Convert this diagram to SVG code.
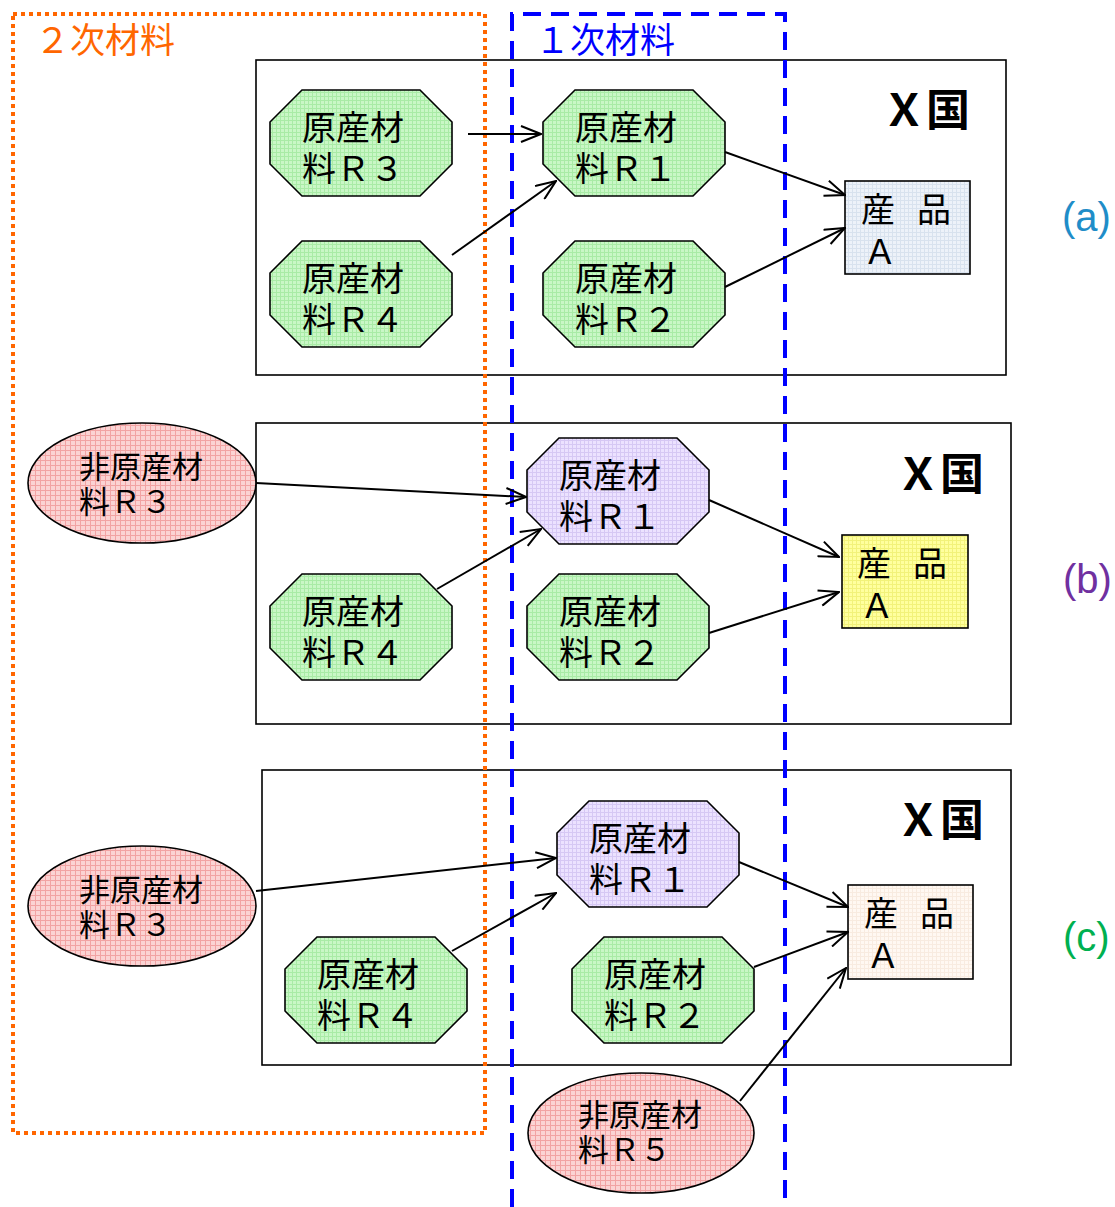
<svg xmlns="http://www.w3.org/2000/svg" width="1115" height="1207" viewBox="0 0 1115 1207">
<defs>
<pattern id="pg" width="4" height="4" patternUnits="userSpaceOnUse"><rect width="4" height="4" fill="#c9f7c6"/><path d="M0,0.5H4M0.5,0V4" stroke="#a9eba6" stroke-width="1"/></pattern>
<pattern id="pp" width="4" height="4" patternUnits="userSpaceOnUse"><rect width="4" height="4" fill="#ece2ff"/><path d="M0,0.5H4M0.5,0V4" stroke="#d6c8f4" stroke-width="1"/></pattern>
<pattern id="pr" width="5" height="5" patternUnits="userSpaceOnUse"><rect width="5" height="5" fill="#fbd3d3"/><path d="M0,0.5H5M0.5,0V5" stroke="#f2a3a3" stroke-width="1"/></pattern>
<pattern id="pb" width="4" height="4" patternUnits="userSpaceOnUse"><rect width="4" height="4" fill="#edf2f9"/><path d="M0,0.5H4M0.5,0V4" stroke="#d8e2ee" stroke-width="1"/></pattern>
<pattern id="py" width="4" height="4" patternUnits="userSpaceOnUse"><rect width="4" height="4" fill="#ffff9e"/><path d="M0,0.5H4M0.5,0V4" stroke="#f2f27a" stroke-width="1"/></pattern>
<pattern id="pc" width="4" height="4" patternUnits="userSpaceOnUse"><rect width="4" height="4" fill="#fff8f2"/><path d="M0,0.5H4M0.5,0V4" stroke="#f8ebe0" stroke-width="1"/></pattern>
<marker id="arr" viewBox="0 0 22 18" refX="21" refY="9" markerWidth="22" markerHeight="18" markerUnits="userSpaceOnUse" orient="auto"><path d="M1,1 L21,9 L1,17" fill="none" stroke="#000" stroke-width="2"/></marker>
</defs>
<style>
.frame{fill:#fff;stroke:#000;stroke-width:1.6}
.oct{stroke:#000;stroke-width:1.6}
.ell{fill:url(#pr);stroke:#000;stroke-width:1.6}
.prod{stroke:#000;stroke-width:1.6}
.t{font-family:"Noto Sans CJK JP","Noto Sans",sans-serif;font-size:34px;fill:#000}
.te{font-family:"Noto Sans CJK JP","Noto Sans",sans-serif;font-size:31px;fill:#000}
.tx{font-family:"Noto Sans CJK JP","Noto Sans",sans-serif;font-size:44px;font-weight:bold;fill:#000}
.tl{font-family:"Liberation Sans","Noto Sans",sans-serif;font-size:40px}
.sp{font-size:22px}
.cn line{stroke:#000;stroke-width:2;marker-end:url(#arr)}
</style>
<rect width="1115" height="1207" fill="#fff"/>

<g id="frame-a"><rect class="frame" x="256" y="60" width="750" height="315"/><text class="tx" x="882" y="126">Ｘ国</text></g>
<g id="frame-b"><rect class="frame" x="256" y="423" width="755" height="301"/><text class="tx" x="896" y="490">Ｘ国</text></g>
<g id="frame-c"><rect class="frame" x="262" y="770" width="749" height="295"/><text class="tx" x="896" y="836">Ｘ国</text></g>

<g id="secondary-region"><rect x="13" y="14" width="472" height="1119" fill="none" stroke="#ff6600" stroke-width="4" stroke-dasharray="4 4"/><text x="35" y="53" font-family="Noto Sans CJK JP,sans-serif" font-size="35" fill="#ff6600">２次材料</text></g>
<g id="primary-region"><path d="M512,1207 V14 H785 V1207" fill="none" stroke="#0000ff" stroke-width="4" stroke-dasharray="18 10"/><text x="535" y="53" font-family="Noto Sans CJK JP,sans-serif" font-size="35" fill="#0000ff">１次材料</text></g>

<g id="a-r3"><polygon class="oct" fill="url(#pg)" points="302,90 420,90 452,122 452,164 420,196 302,196 270,164 270,122"/><text class="t" x="302" y="140">原産材<tspan x="302" dy="41">料Ｒ３</tspan></text></g>
<g id="a-r1"><polygon class="oct" fill="url(#pg)" points="575,90 693,90 725,122 725,164 693,196 575,196 543,164 543,122"/><text class="t" x="575" y="140">原産材<tspan x="575" dy="41">料Ｒ１</tspan></text></g>
<g id="a-r4"><polygon class="oct" fill="url(#pg)" points="302,241 420,241 452,273 452,315 420,347 302,347 270,315 270,273"/><text class="t" x="302" y="291">原産材<tspan x="302" dy="41">料Ｒ４</tspan></text></g>
<g id="a-r2"><polygon class="oct" fill="url(#pg)" points="575,241 693,241 725,273 725,315 693,347 575,347 543,315 543,273"/><text class="t" x="575" y="291">原産材<tspan x="575" dy="41">料Ｒ２</tspan></text></g>
<g id="a-prod"><rect class="prod" fill="url(#pb)" x="845" y="181" width="125" height="93"/><text class="t" x="861" y="222">産<tspan class="sp">　</tspan>品</text><text class="t" x="863" y="264">Ａ</text></g>

<g id="b-r3"><ellipse class="ell" cx="142" cy="483" rx="114" ry="60"/><text class="te" x="79" y="478">非原産材<tspan x="79" dy="35">料Ｒ３</tspan></text></g>
<g id="b-r1"><polygon class="oct" fill="url(#pp)" points="559,438 677,438 709,470 709,512 677,544 559,544 527,512 527,470"/><text class="t" x="559" y="488">原産材<tspan x="559" dy="41">料Ｒ１</tspan></text></g>
<g id="b-r4"><polygon class="oct" fill="url(#pg)" points="302,574 420,574 452,606 452,648 420,680 302,680 270,648 270,606"/><text class="t" x="302" y="624">原産材<tspan x="302" dy="41">料Ｒ４</tspan></text></g>
<g id="b-r2"><polygon class="oct" fill="url(#pg)" points="559,574 677,574 709,606 709,648 677,680 559,680 527,648 527,606"/><text class="t" x="559" y="624">原産材<tspan x="559" dy="41">料Ｒ２</tspan></text></g>
<g id="b-prod"><rect class="prod" fill="url(#py)" x="842" y="535" width="126" height="93"/><text class="t" x="857" y="576">産<tspan class="sp">　</tspan>品</text><text class="t" x="860" y="618">Ａ</text></g>

<g id="c-r3"><ellipse class="ell" cx="142" cy="906" rx="114" ry="60"/><text class="te" x="79" y="901">非原産材<tspan x="79" dy="35">料Ｒ３</tspan></text></g>
<g id="c-r1"><polygon class="oct" fill="url(#pp)" points="589,801 707,801 739,833 739,875 707,907 589,907 557,875 557,833"/><text class="t" x="589" y="851">原産材<tspan x="589" dy="41">料Ｒ１</tspan></text></g>
<g id="c-r4"><polygon class="oct" fill="url(#pg)" points="317,937 435,937 467,969 467,1011 435,1043 317,1043 285,1011 285,969"/><text class="t" x="317" y="987">原産材<tspan x="317" dy="41">料Ｒ４</tspan></text></g>
<g id="c-r2"><polygon class="oct" fill="url(#pg)" points="604,937 722,937 754,969 754,1011 722,1043 604,1043 572,1011 572,969"/><text class="t" x="604" y="987">原産材<tspan x="604" dy="41">料Ｒ２</tspan></text></g>
<g id="c-prod"><rect class="prod" fill="url(#pc)" x="848" y="885" width="125" height="94"/><text class="t" x="864" y="926">産<tspan class="sp">　</tspan>品</text><text class="t" x="866" y="968">Ａ</text></g>
<g id="c-r5"><ellipse class="ell" cx="641" cy="1133" rx="113" ry="60"/><text class="te" x="578" y="1126">非原産材<tspan x="578" dy="35">料Ｒ５</tspan></text></g>

<g id="connectors" class="cn">
<line x1="468" y1="134" x2="541" y2="134"/>
<line x1="452" y1="255" x2="556" y2="181"/>
<line x1="725" y1="152" x2="845" y2="195"/>
<line x1="725" y1="287" x2="845" y2="228"/>
<line x1="256" y1="483" x2="526" y2="497"/>
<line x1="437" y1="589" x2="541" y2="529"/>
<line x1="709" y1="500" x2="839" y2="557"/>
<line x1="709" y1="633" x2="839" y2="592"/>
<line x1="256" y1="891" x2="556" y2="858"/>
<line x1="452" y1="951" x2="556" y2="893"/>
<line x1="739" y1="862" x2="848" y2="907"/>
<line x1="754" y1="967" x2="848" y2="932"/>
<line x1="740" y1="1101" x2="846" y2="968"/>
</g>

<g id="labels">
<text class="tl" x="1062" y="231" fill="#1f8dc8">(a)</text>
<text class="tl" x="1063" y="593" fill="#7030a0">(b)</text>
<text class="tl" x="1063" y="951" fill="#00b050">(c)</text>
</g>
</svg>
